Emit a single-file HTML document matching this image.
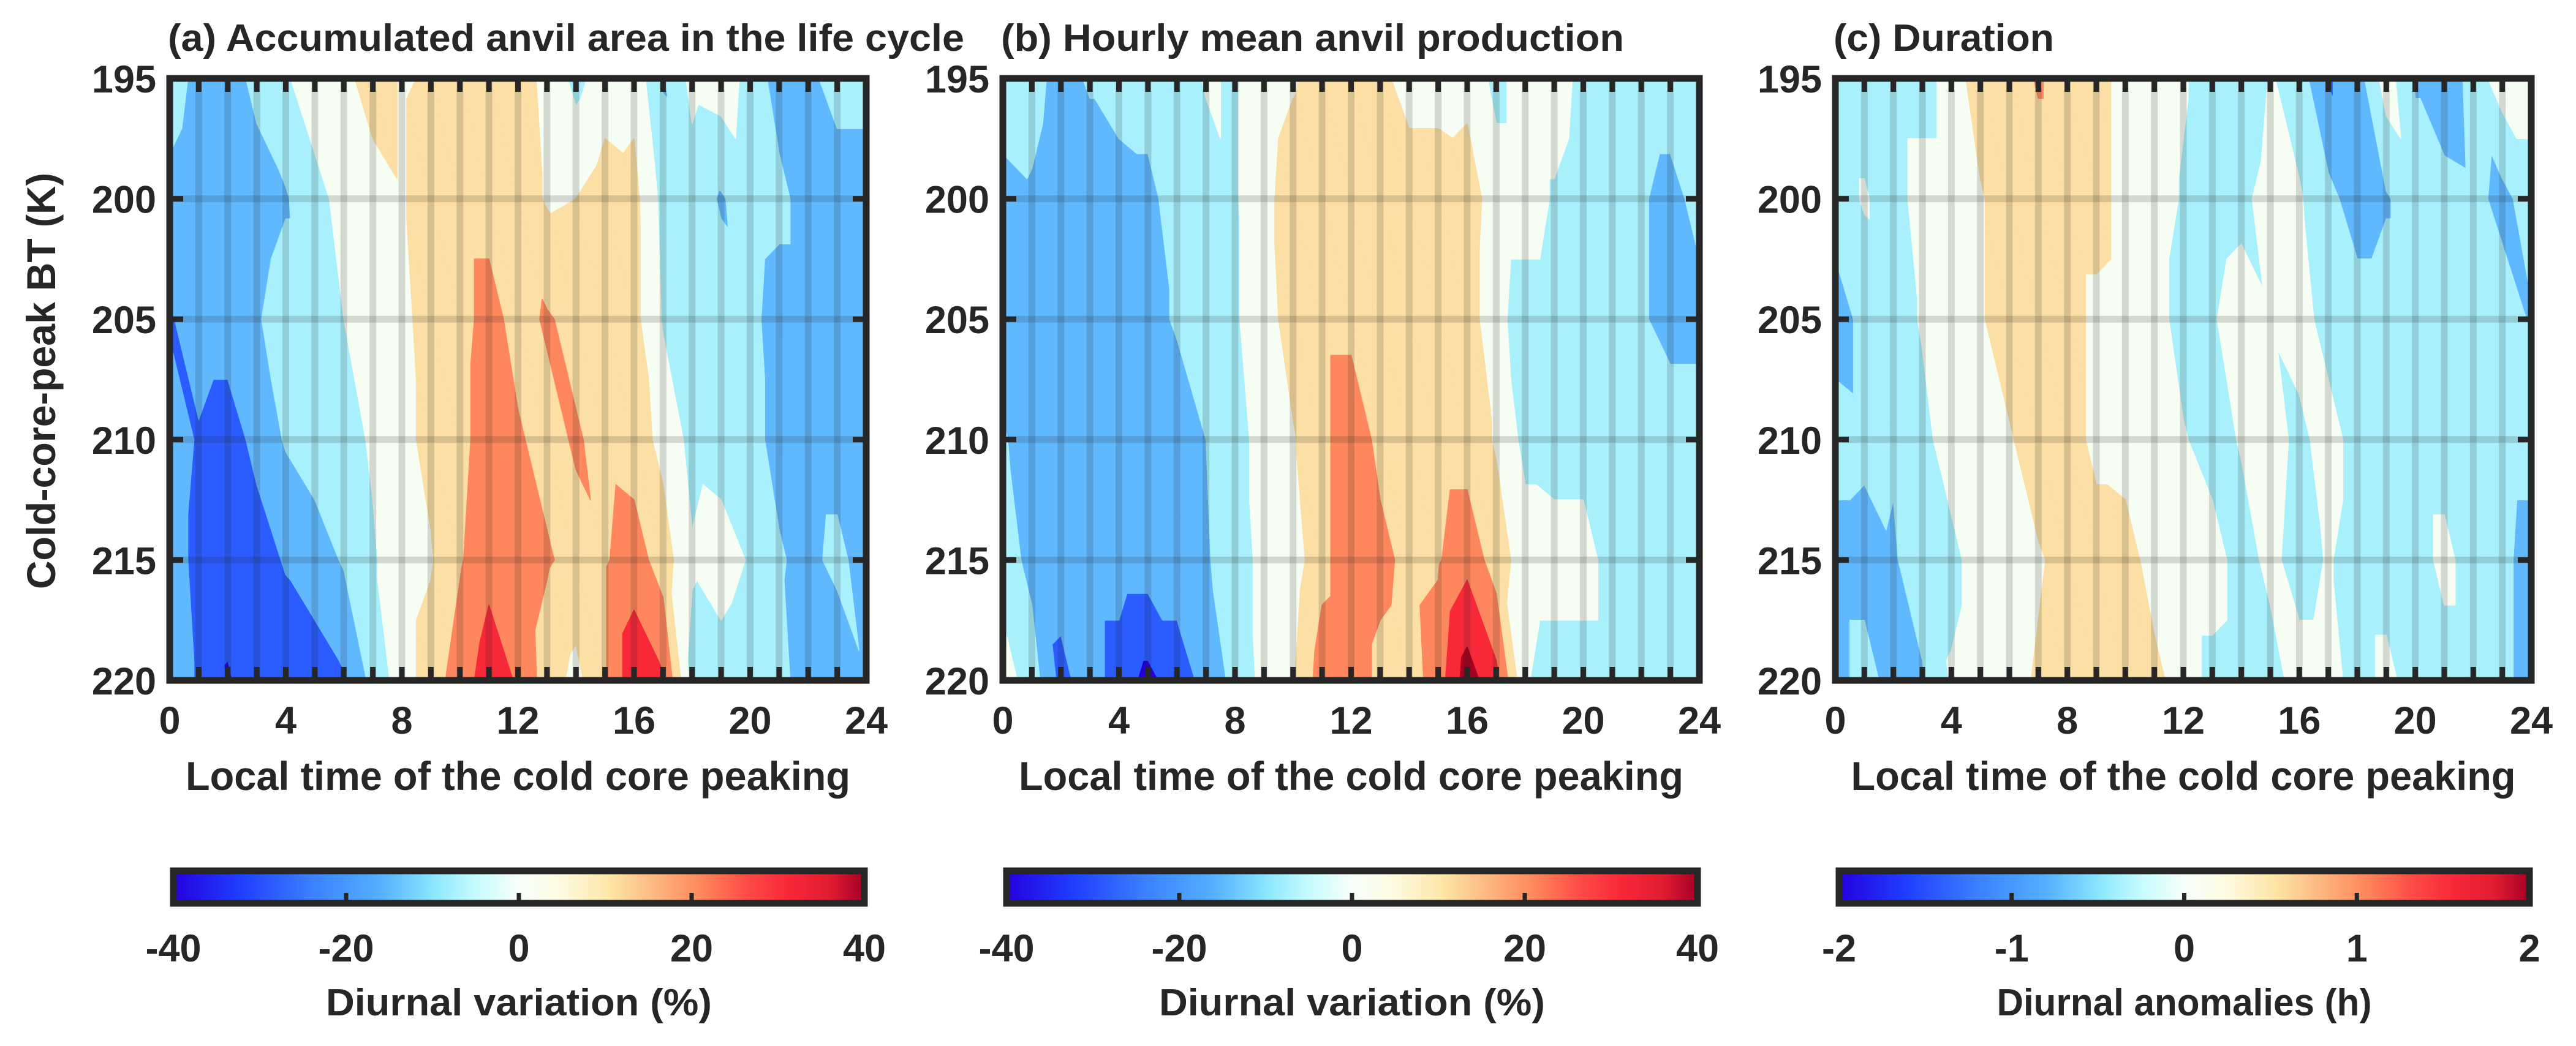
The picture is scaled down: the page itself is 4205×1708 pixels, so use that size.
<!DOCTYPE html>
<html><head><meta charset="utf-8">
<style>
html,body{margin:0;padding:0;background:#fff;}
svg{display:block;}
text{font-family:"Liberation Sans",Arial,sans-serif;font-weight:bold;fill:#262626;}
</style></head>
<body>
<svg id="fig" xmlns="http://www.w3.org/2000/svg" width="4205" height="1708" viewBox="0 0 4205 1708">
<defs>
<linearGradient id="cmap" x1="0" x2="1" y1="0" y2="0">
<stop offset="0" stop-color="#2400e0"/><stop offset="0.1" stop-color="#2040ff"/>
<stop offset="0.2" stop-color="#3a80ff"/><stop offset="0.3" stop-color="#55b0ff"/>
<stop offset="0.38" stop-color="#8ee8ff"/><stop offset="0.44" stop-color="#c8fcff"/>
<stop offset="0.5" stop-color="#f6fffa"/><stop offset="0.56" stop-color="#fffbe0"/>
<stop offset="0.63" stop-color="#fde6a8"/><stop offset="0.7" stop-color="#fdb57e"/>
<stop offset="0.76" stop-color="#ff8a5c"/><stop offset="0.83" stop-color="#fd4c46"/>
<stop offset="0.89" stop-color="#f72838"/><stop offset="0.95" stop-color="#e01c30"/>
<stop offset="1" stop-color="#a50026"/>
</linearGradient>
</defs>
</svg>
<script>
const hours = [0,1,2,3,4,5,6,7,8,9,10,11,12,13,14,15,16,17,18,19,20,21,22,23,24];
const btLevels = [195,200,205,210,215,220];
const xTickLabels = ["0","4","8","12","16","20","24"];
const yTickLabels = ["195","200","205","210","215","220"];
const levelsPct = [-35,-25,-15,-5,5,15,25,35];
const levelsH = [-1.75,-1.25,-0.75,-0.25,0.25,0.75,1.25,1.75];
const bandColors = ["#2400d8","#2b5cff","#60b8ff","#a8f0fb","#f6fdf2","#fcdfa4","#ff875e","#f72838","#a8001f"];
const cbTicksPct = ["-40","-20","0","20","40"];
const cbTicksH = ["-2","-1","0","1","2"];

const valsA = [
[-10,-18,-20,-12,-6,0,2,10,4,6,6,10,10,2,-8,0,2,-16,-2,0,-8,-20,-18,-10,-10],
[-18,-22,-20,-20,-16,-8,-2,0,4,10,12,12,10,4,5,10,8,-8,-10,-16,-10,-12,-20,-22,-22],
[-26,-20,-20,-16,-10,-10,-5,0,2,10,12,18,12,16,12,10,8,-6,-10,-10,-12,-20,-20,-20,-20],
[-20,-26,-30,-22,-14,-10,-8,-4,2,8,12,20,16,12,16,12,10,2,-8,-10,-12,-18,-20,-20,-20],
[-20,-28,-30,-30,-24,-20,-14,-6,0,4,14,22,22,16,12,14,20,10,-4,0,-6,-14,-18,-12,-20],
[-20,-26,-36,-30,-32,-30,-26,-12,0,10,20,30,24,10,2,14,32,26,-8,-10,-14,-12,-20,-24,-16]
];
const valsB = [
[-10,-12,-18,-14,-10,-10,-10,-4,-6,0,4,10,10,8,0,0,2,-8,0,0,-8,-10,-10,-10,-10],
[-18,-16,-20,-20,-20,-18,-10,-10,-6,2,10,12,12,12,12,12,10,0,0,-6,-10,-10,-14,-18,-12],
[-20,-20,-20,-20,-20,-18,-14,-10,-6,0,10,12,12,14,12,12,10,-2,-10,-10,-10,-10,-14,-18,-18],
[-14,-20,-20,-20,-20,-20,-20,-15,-8,-2,4,12,22,12,10,10,10,4,-8,-10,-10,-10,-10,-10,-10],
[-10,-18,-20,-20,-20,-20,-20,-16,-10,-2,0,12,22,18,12,14,22,10,0,0,0,-10,-10,-10,-10],
[0,-10,-28,-20,-30,-38,-30,-22,-12,-2,4,20,22,12,10,20,40,28,-4,-10,-10,-10,-10,-12,-10]
];
const valsC = [
[-0.5,-0.5,-0.5,-0.5,0,0.5,0.5,0.8,0.5,0.5,0,0,-0.2,-0.5,-0.8,-0.2,-0.5,-1.3,-1,0,-0.8,-1.2,-0.5,0,0],
[-0.5,-0.2,-0.5,0,0,0.2,0.5,0.5,0.5,0.5,0,0,-0.3,-0.5,-0.4,0,-0.2,-0.6,-1,-0.8,-0.5,-0.5,-0.6,-0.9,-0.5],
[-1,-0.6,-0.5,-0.2,0,0.2,0.5,0.5,0.5,0.1,0,0,-0.5,-0.3,0,-0.2,0,-0.5,-0.5,-0.5,-0.5,-0.5,-0.5,-0.5,-0.8],
[-0.5,-0.6,-0.7,-0.4,0,0,0.2,0.5,0.5,0.1,0,0,-0.2,-0.5,-0.2,0,-0.4,0,-0.5,-0.5,-0.5,-0.5,-0.5,-0.5,-0.5],
[-1,-1,-0.8,-0.5,-0.4,0,0,0.2,0.4,0.5,0.5,0,0,0,-0.5,-0.1,-0.5,-0.2,-0.5,-0.5,-0.5,-0.1,-0.5,-0.6,-1],
[-1,-0.5,-1,-0.8,-0.2,0,0.1,0.3,0.5,0.5,0.5,0.4,0,-0.4,-0.5,-0.5,0,0,-0.5,-0.1,-0.5,-0.5,-0.5,-0.6,-1]
];

const NS = "http://www.w3.org/2000/svg";
const svg = document.getElementById("fig");
function mk(tag, attrs, parent){
  const e = document.createElementNS(NS, tag);
  for (const k in attrs) e.setAttribute(k, attrs[k]);
  (parent||svg).appendChild(e);
  return e;
}
const TOP = 128, BOT = 1111, FR = "#262626";

function clipPoly(poly, thr, above){
  const out = [];
  for (let i=0;i<poly.length;i++){
    const a = poly[i], b = poly[(i+1)%poly.length];
    const ina = above ? a[2]>=thr : a[2]<=thr;
    const inb = above ? b[2]>=thr : b[2]<=thr;
    if (ina) out.push(a);
    if (ina!==inb){
      const t = (thr-a[2])/(b[2]-a[2]);
      out.push([a[0]+t*(b[0]-a[0]), a[1]+t*(b[1]-a[1]), thr]);
    }
  }
  return out;
}

function panel(key, L, R, vals, levels, title, cbTicks, cbLabel, cbLabelLen, titleLen){
  const g = mk("g", {});
  
  
  const xs = h => L + (h-hours[0])/(hours[hours.length-1]-hours[0])*(R-L);
  const ys = b => TOP + (b-btLevels[0])/(btLevels[btLevels.length-1]-btLevels[0])*(BOT-TOP);
  const cid = "clip"+key;
  const cp = mk("clipPath",{id:cid}, g); mk("rect",{x:L,y:TOP,width:R-L,height:BOT-TOP},cp);
  const cg = mk("g",{"clip-path":"url(#"+cid+")"}, g);
  
  
  const paths = bandColors.map(()=>[]);
  for (let j=0;j<btLevels.length-1;j++){
    for (let i=0;i<hours.length-1;i++){
      const p00=[xs(hours[i]),ys(btLevels[j]),vals[j][i]];
      const p10=[xs(hours[i+1]),ys(btLevels[j]),vals[j][i+1]];
      const p01=[xs(hours[i]),ys(btLevels[j+1]),vals[j+1][i]];
      const p11=[xs(hours[i+1]),ys(btLevels[j+1]),vals[j+1][i+1]];
      const tris=[[p00,p10,p11],[p00,p11,p01]];
      for (const tri of tris){
        for (let k=0;k<bandColors.length;k++){
          let poly = tri;
          if (k>0) poly = clipPoly(poly, levels[k-1], true);
          if (poly.length<3) continue;
          if (k<levels.length) poly = clipPoly(poly, levels[k], false);
          if (poly.length<3) continue;
          paths[k].push("M"+poly.map(p=>p[0].toFixed(1)+","+p[1].toFixed(1)).join("L")+"Z");
        }
      }
    }
  }
  paths.forEach((d,k)=>{
    if(!d.length) return;
    const p = mk("path",{d:d.join(""),fill:bandColors[k],stroke:bandColors[k],"stroke-width":1.5,"stroke-linejoin":"round"},cg);
    
    
  });
  // grid
  for (let h=1; h<24; h++){
    const l = mk("line",{x1:xs(h),x2:xs(h),y1:TOP,y2:BOT,stroke:"rgba(30,30,30,0.16)","stroke-width":11},g);
    
    
  }
  for (let b=200; b<=215; b+=5){
    const l = mk("line",{x1:L,x2:R,y1:ys(b),y2:ys(b),stroke:"rgba(30,30,30,0.16)","stroke-width":11},g);
    
    
  }
  // ticks
  for (let h=0; h<=24; h++){
    const t1 = mk("line",{x1:xs(h),x2:xs(h),y1:TOP,y2:TOP+22,stroke:FR,"stroke-width":9},g);
    
    
    const t2 = mk("line",{x1:xs(h),x2:xs(h),y1:BOT,y2:BOT-22,stroke:FR,"stroke-width":9},g);
    
    
  }
  btLevels.forEach(b=>{
    const t1 = mk("line",{x1:L,x2:L+22,y1:ys(b),y2:ys(b),stroke:FR,"stroke-width":9},g);
    
    
    const t2 = mk("line",{x1:R,x2:R-22,y1:ys(b),y2:ys(b),stroke:FR,"stroke-width":9},g);
    
    
  });
  const fr = mk("rect",{x:L,y:TOP,width:R-L,height:BOT-TOP,fill:"none",stroke:FR,"stroke-width":11},g);
  
  
  // tick labels
  xTickLabels.forEach(s=>{
    const t = mk("text",{x:xs(+s),y:1198,"font-size":63,"text-anchor":"middle"},g);
    t.textContent = s;
    
    
  });
  yTickLabels.forEach(s=>{
    const t = mk("text",{x:L-22,y:ys(+s)+23,"font-size":63,"text-anchor":"end"},g);
    t.textContent = s;
    
    
  });
  const xl = mk("text",{x:(L+R)/2,y:1290,"font-size":66,"text-anchor":"middle",textLength:1085,lengthAdjust:"spacingAndGlyphs"},g);
  xl.textContent = "Local time of the cold core peaking";
  
  
  const tt = mk("text",{x:L-3,y:83,"font-size":62,textLength:titleLen,lengthAdjust:"spacingAndGlyphs"},g);
  tt.textContent = title;
  
  
  // colorbar
  const cb = mk("g",{},g);
  
  
  const cL=L+6, cR=R-3, cT=1422, cB=1475;
  mk("rect",{x:cL,y:cT,width:cR-cL,height:cB-cT,fill:"url(#cmap)",stroke:FR,"stroke-width":11},cb);
  [0.25,0.5,0.75].forEach(f=>{
    mk("line",{x1:cL+f*(cR-cL),x2:cL+f*(cR-cL),y1:cB-5,y2:cB-17,stroke:FR,"stroke-width":7},cb);
  });
  cbTicks.forEach((s,i)=>{
    const t = mk("text",{x:cL+i/(cbTicks.length-1)*(cR-cL),y:1570,"font-size":63,"text-anchor":"middle"},cb);
    t.textContent = s;
    
    
  });
  const cl = mk("text",{x:(cL+cR)/2,y:1658,"font-size":62,"text-anchor":"middle",textLength:cbLabelLen,lengthAdjust:"spacingAndGlyphs"},cb);
  cl.textContent = cbLabel;
  
  
}

panel("a",277,1414,valsA,levelsPct,"(a) Accumulated anvil area in the life cycle",cbTicksPct,"Diurnal variation (%)",630,1300);
panel("b",1637,2774,valsB,levelsPct,"(b) Hourly mean anvil production",cbTicksPct,"Diurnal variation (%)",630,1017);
panel("c",2996,4132,valsC,levelsH,"(c) Duration",cbTicksH,"Diurnal anomalies (h)",612,360);

const yl = mk("text",{x:0,y:0,"font-size":66,"text-anchor":"middle",textLength:680,lengthAdjust:"spacingAndGlyphs",transform:"translate(90,622) rotate(-90)"});
yl.textContent = "Cold-core-peak BT (K)";


</script>
</body></html>
